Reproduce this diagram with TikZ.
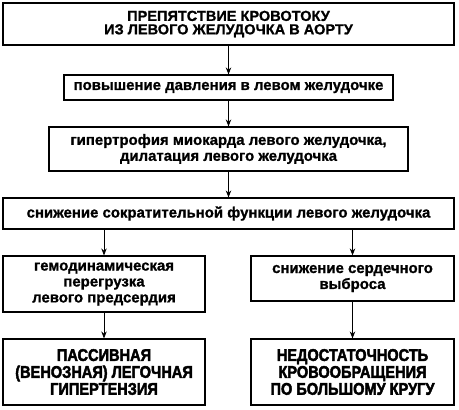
\documentclass[tikz,border=0pt]{standalone}
\usepackage{fontspec}
\setmainfont{Liberation Sans}[BoldFeatures={FakeBold=1}]
\newfontfamily\heavyfont[FakeStretch=0.86,FakeBold=2.5]{Liberation Sans Bold}
\usetikzlibrary{arrows.meta}
\tikzset{box/.style={draw,line width=1.2bp,inner sep=0pt,align=center,font=\bfseries\fontsize{15}{16}\selectfont}}
\tikzset{bigbox/.style={box,font=\heavyfont\fontsize{17}{17}\selectfont}}
\tikzset{arr/.style={-{Stealth[length=7bp,width=5.5bp]},line width=0.9bp}}

\begin{document}
\begin{tikzpicture}[x=1bp, y=-1bp]
	\useasboundingbox (0,0) rectangle (459,409);
	\node [box, minimum width=451bp, minimum height=42bp, font=\bfseries\fontsize{14.6}{13.5}\selectfont] (obst) at (228.5,24) {ПРЕПЯТСТВИЕ КРОВОТОКУ\\ИЗ ЛЕВОГО ЖЕЛУДОЧКА В АОРТУ};
	\node [box, minimum width=329bp, minimum height=25bp] (press) at (228.5,87.5) {повышение давления в левом желудочке};
	\node [box, minimum width=359bp, minimum height=44bp] (hyper) at (228.5,149) {гипертрофия миокарда левого желудочка,\\дилатация левого желудочка};
	\node [box, minimum width=451bp, minimum height=31bp] (contr) at (228.5,213.5) {снижение сократительной функции левого желудочка};
	\node [box, minimum width=202bp, minimum height=56bp] (atrium) at (104,284) {гемодинамическая\\перегрузка\\левого предсердия};
	\node [box, minimum width=203bp, minimum height=45bp] (output) at (352.5,278.5) {снижение сердечного\\выброса};
	\node [bigbox, minimum width=202bp, minimum height=66bp] (pulm) at (104,372) {ПАССИВНАЯ\\(ВЕНОЗНАЯ) ЛЕГОЧНАЯ\\ГИПЕРТЕНЗИЯ};
	\node [bigbox, minimum width=203bp, minimum height=66bp] (fail) at (352.5,372) {НЕДОСТАТОЧНОСТЬ\\КРОВООБРАЩЕНИЯ\\ПО БОЛЬШОМУ КРУГУ};
	
	\draw [arr] (obst) -- (press);
	\draw [arr] (press) -- (hyper);
	\draw [arr] (hyper) -- (contr);
	\draw [arr] (contr.south -| atrium) -- (atrium);
	\draw [arr] (contr.south -| output) -- (output);
	\draw [arr] (atrium) -- (pulm);
	\draw [arr] (output) -- (fail);
\end{tikzpicture}
\end{document}
